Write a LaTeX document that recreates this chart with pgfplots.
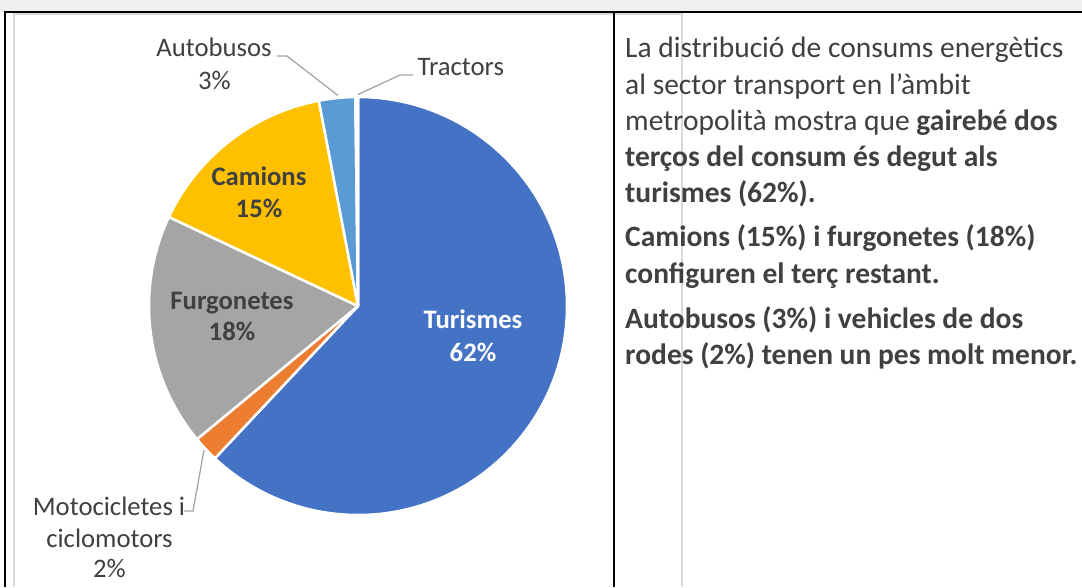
\documentclass[border=0pt]{standalone}
\usepackage{pgfplots}
\usepackage{pgfplotstable}
\pgfplotsset{compat=1.18}
\usepackage{fontspec}
\setmainfont{Carlito}
\definecolor{cTur}{HTML}{4472C4}
\definecolor{cMot}{HTML}{ED7D31}
\definecolor{cFur}{HTML}{A5A5A5}
\definecolor{cCam}{HTML}{FFC000}
\definecolor{cAut}{HTML}{5B9BD5}
\definecolor{cTra}{HTML}{70AD47}
\definecolor{txt}{HTML}{404040}
\definecolor{lead}{HTML}{A6A6A6}
\definecolor{frameg}{HTML}{D9D9D9}
\definecolor{topband}{HTML}{F0F0F0}
\newcommand{\lab}{\fontsize{26.7}{32.5}\selectfont}
\newcommand{\rt}{\fontsize{29.5}{36.35}\selectfont}

% share of energy consumption (%), clockwise from 12 o'clock
\pgfplotstableread{
name value
Turismes 62
Motocicletes 2
Furgonetes 18
Camions 15
Autobusos 2.8
Tractors 0.2
}\piedata

\pgfplotstablegetelem{0}{value}\of\piedata \pgfmathsetmacro{\aA}{90-3.6*\pgfplotsretval}
\pgfplotstablegetelem{1}{value}\of\piedata \pgfmathsetmacro{\aB}{\aA-3.6*\pgfplotsretval}
\pgfplotstablegetelem{2}{value}\of\piedata \pgfmathsetmacro{\aC}{\aB-3.6*\pgfplotsretval}
\pgfplotstablegetelem{3}{value}\of\piedata \pgfmathsetmacro{\aD}{\aC-3.6*\pgfplotsretval}
\pgfplotstablegetelem{4}{value}\of\piedata \pgfmathsetmacro{\aE}{\aD-3.6*\pgfplotsretval}
\pgfplotstablegetelem{5}{value}\of\piedata \pgfmathsetmacro{\aF}{\aE-3.6*\pgfplotsretval}

\begin{document}
\begin{tikzpicture}
\useasboundingbox (0,0) rectangle (1082pt,587pt);
\fill[white] (0,0) rectangle (1082pt,587pt);
\begin{axis}[
  at={(0,0)}, anchor=south west,
  x=1pt, y=1pt, xmin=0, xmax=1082, ymin=0, ymax=587,
  y dir=reverse, hide axis, clip=false,
]
% frame
\fill[topband] (axis cs:0,0) rectangle (axis cs:1082,11.5);
\draw[frameg, line width=2pt] (axis cs:14,587) -- (axis cs:14,14) -- (axis cs:682,14) -- (axis cs:682,587);
\draw[black, line width=2.2pt] (axis cs:4,12) -- (axis cs:1082,12);
\draw[black, line width=2.2pt] (axis cs:5,11) -- (axis cs:5,587);
\draw[black, line width=2.2pt] (axis cs:614,12) -- (axis cs:614,587);

% pie slices
\filldraw[fill=cTur, draw=white, line width=2.5pt, line join=round] (axis cs:358,306) -- ++(90:209pt) arc[start angle=90, end angle=\aA, radius=209pt] -- cycle;
\filldraw[fill=cMot, draw=white, line width=2.5pt, line join=round] (axis cs:358,306) -- ++(\aA:209pt) arc[start angle=\aA, end angle=\aB, radius=209pt] -- cycle;
\filldraw[fill=cFur, draw=white, line width=2.5pt, line join=round] (axis cs:358,306) -- ++(\aB:209pt) arc[start angle=\aB, end angle=\aC, radius=209pt] -- cycle;
\filldraw[fill=cCam, draw=white, line width=2.5pt, line join=round] (axis cs:358,306) -- ++(\aC:209pt) arc[start angle=\aC, end angle=\aD, radius=209pt] -- cycle;
\filldraw[fill=cAut, draw=white, line width=2.5pt, line join=round] (axis cs:358,306) -- ++(\aD:209pt) arc[start angle=\aD, end angle=\aE, radius=209pt] -- cycle;
\filldraw[fill=cTra, draw=white, line width=2.5pt, line join=round] (axis cs:358,306) -- ++(\aE:209pt) arc[start angle=\aE, end angle=\aF, radius=209pt] -- cycle;

% leader lines
\draw[lead, line width=1.3pt] (axis cs:277,56) -- (axis cs:287,56) -- (axis cs:338,95.5);
\draw[lead, line width=1.3pt] (axis cs:358,94.5) -- (axis cs:400,75) -- (axis cs:413,75);
\draw[lead, line width=1.3pt] (axis cs:204,450) -- (axis cs:193,511) -- (axis cs:184,511);

% slice labels
\node[anchor=base, text=white, font=\lab\bfseries, inner sep=0] at (axis cs:473,328) {Turismes};
\node[anchor=base, text=white, font=\lab\bfseries, inner sep=0] at (axis cs:473,361.5) {62\%};
\node[anchor=base, text=txt, font=\lab\bfseries, inner sep=0] at (axis cs:259,185) {Camions};
\node[anchor=base, text=txt, font=\lab\bfseries, inner sep=0] at (axis cs:259,217) {15\%};
\node[anchor=base, text=txt, font=\lab\bfseries, inner sep=0] at (axis cs:232,309) {Furgonetes};
\node[anchor=base, text=txt, font=\lab\bfseries, inner sep=0] at (axis cs:232,340.5) {18\%};
\node[anchor=base, text=txt, font=\lab, inner sep=0] at (axis cs:214,56.7) {Autobusos};
\node[anchor=base, text=txt, font=\lab, inner sep=0] at (axis cs:214.5,89.3) {3\%};
\node[anchor=base west, text=txt, font=\lab, inner sep=0] at (axis cs:417.5,75) {Tractors};
\node[anchor=base, text=txt, font=\lab, inner sep=0] at (axis cs:109,515) {Motocicletes i};
\node[anchor=base, text=txt, font=\lab, inner sep=0] at (axis cs:109.5,547.3) {ciclomotors};
\node[anchor=base, text=txt, font=\lab, inner sep=0] at (axis cs:109.5,577.7) {2\%};

% commentary text
\node[anchor=base west, text=txt, font=\rt, inner sep=0] at (axis cs:625,57.3) {La distribució de consums energètics};
\node[anchor=base west, text=txt, font=\rt, inner sep=0] at (axis cs:625,94) {al sector transport en l’àmbit};
\node[anchor=base west, text=txt, font=\rt, inner sep=0] at (axis cs:625,130.3) {metropolità mostra que \textbf{gairebé dos}};
\node[anchor=base west, text=txt, font=\rt\bfseries, inner sep=0] at (axis cs:625,166.7) {terços del consum és degut als};
\node[anchor=base west, text=txt, font=\rt\bfseries, inner sep=0] at (axis cs:625,202.8) {turismes (62\%).};
\node[anchor=base west, text=txt, font=\rt\bfseries, inner sep=0] at (axis cs:625,246.7) {Camions (15\%) i furgonetes (18\%)};
\node[anchor=base west, text=txt, font=\rt\bfseries, inner sep=0] at (axis cs:625,283.3) {configuren el terç restant.};
\node[anchor=base west, text=txt, font=\rt\bfseries, inner sep=0] at (axis cs:625,328.3) {Autobusos (3\%) i vehicles de dos};
\node[anchor=base west, text=txt, font=\rt\bfseries, inner sep=0] at (axis cs:625,364.3) {rodes (2\%) tenen un pes molt menor.};
\end{axis}
\end{tikzpicture}
\end{document}
